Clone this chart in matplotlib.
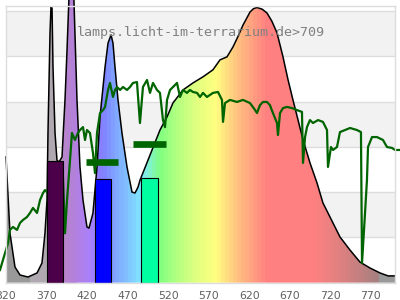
import numpy as np
import matplotlib
matplotlib.use('Agg')
from matplotlib import pyplot as plt
from matplotlib.patches import Polygon
from matplotlib.colors import to_rgb

# lamp spectrum (relative)
lamp_nm = [320, 324.9, 331.1, 337.3, 347.1, 358.3, 364.4, 368.1, 370.6, 371.8, 374.3, 375.5,
           376.8, 378.0, 380.5, 382.9, 385.4, 389.1, 392.8, 395.3, 397.5, 400.5, 403.9,
           407.6, 411.3, 415.0, 419.9, 422.4, 427.3, 432.3, 436.0, 442.2, 445.9, 449.6,
           452.0, 454.5, 458.2, 463.1, 469.3, 475.5, 479.2, 482.9, 485.4, 500.2, 510.0,
           518.7, 526.1, 538.4, 550.7, 563.1, 575.4, 584.1, 592.7, 600.1, 606.0, 612.4, 621.1,
           625.4, 629.7, 635.9, 642.0, 648.0, 654.4, 661.8, 668.0, 674.1, 680.3, 686.5, 695.1,
           703.8, 711.1, 719.8, 732.1, 744.5, 756.8, 769.1, 781.5, 791.4, 800]
lamp_val = [0.555, 0.219, 0.069, 0.034, 0.025, 0.043, 0.087, 0.219, 0.365, 0.661, 1.103, 1.217,
            1.213, 0.952, 0.661, 0.541, 0.533, 0.555, 0.807, 1.027, 1.24, 1.55, 1.24,
            0.807, 0.511, 0.365, 0.246, 0.241, 0.307, 0.511, 0.732, 0.952, 1.058, 1.094,
            1.058, 0.952, 0.807, 0.661, 0.511, 0.400, 0.396, 0.422, 0.453, 0.586, 0.674,
            0.732, 0.794, 0.851, 0.882, 0.909, 0.940, 0.984, 0.997, 1.041, 1.085, 1.137, 1.195,
            1.210, 1.215, 1.208, 1.191, 1.155, 1.103, 0.997, 0.896, 0.807, 0.719, 0.631, 0.529,
            0.440, 0.352, 0.290, 0.202, 0.144, 0.091, 0.065, 0.043, 0.030, 0.030]

# sunlight reference (green line)
sun_nm = [312.6, 318.8, 322.5, 324.9, 328.6, 333.6, 337.3, 341.0, 345.9, 349.6, 353.3, 358.3,
          362.0, 365.7, 368.1, 374.3, 380.5, 386.6, 390.3, 392.8, 395.3, 399.0, 401.4, 405.1,
          408.8, 411.3, 415.0, 417.5, 419.9, 423.6, 427.3, 429.8, 432.3, 436.0, 439.7, 442.2,
          445.9, 448.3, 452.0, 454.5, 457.0, 460.7, 464.4, 469.3, 473.0, 476.7, 481.6, 485.3,
          489.0, 494.0, 497.7, 501.4, 506.3, 510.0, 513.7, 516.2, 518.7, 522.4, 526.1, 531.0,
          534.7, 538.4, 543.3, 547.0, 550.7, 555.7, 559.4, 563.1, 568.0, 571.7, 575.4, 581.6,
          586.5, 587.8, 590.2, 596.4, 605.0, 612.4, 621.1, 627.2, 629.7, 633.4, 637.1, 642.0,
          645.7, 649.4, 654.4, 655.6, 658.1, 661.8, 666.7, 672.9, 679.1, 685.2, 686.5, 689.0,
          691.4, 695.1, 698.8, 705.0, 711.1, 716.1, 717.3, 721.0, 723.5, 728.4, 732.1, 738.3,
          744.5, 753.1, 758.0, 759.3, 763.0, 765.4, 766.7, 771.6, 777.8, 785.2, 790.1, 796.3,
          800.0, 806.2]
sun_val = [0.056, 0.131, 0.175, 0.233, 0.246, 0.233, 0.264, 0.277, 0.290, 0.308, 0.330, 0.308,
           0.365, 0.396, 0.409, 0.387, 0.409, 0.431, 0.466, 0.218, 0.365, 0.542, 0.661, 0.630,
           0.661, 0.674, 0.687, 0.630, 0.674, 0.661, 0.573, 0.484, 0.661, 0.749, 0.762, 0.776,
           0.851, 0.882, 0.820, 0.851, 0.864, 0.851, 0.864, 0.851, 0.864, 0.882, 0.886, 0.705,
           0.864, 0.895, 0.838, 0.882, 0.851, 0.838, 0.718, 0.687, 0.807, 0.851, 0.864, 0.882,
           0.820, 0.851, 0.838, 0.851, 0.842, 0.838, 0.820, 0.838, 0.820, 0.829, 0.838, 0.842,
           0.807, 0.710, 0.793, 0.807, 0.798, 0.807, 0.793, 0.763, 0.749, 0.784, 0.798, 0.798,
           0.784, 0.749, 0.705, 0.652, 0.749, 0.771, 0.776, 0.771, 0.762, 0.754, 0.529, 0.643,
           0.687, 0.718, 0.705, 0.718, 0.710, 0.674, 0.511, 0.599, 0.586, 0.599, 0.665, 0.674,
           0.683, 0.674, 0.665, 0.087, 0.307, 0.453, 0.599, 0.643, 0.643, 0.630, 0.599, 0.595,
           0.586, 0.586]

# receptor bars and marks
bar_nm = [380, 440, 497]
bar_val = [0.537, 0.456, 0.461]
bar_colors = ['#4b0049', '#0000ff', '#00ffa0']
dash_nm = [438.5, 497]
dash_val = [0.532, 0.611]

# spectral colours under the curve
spec_nm = [320, 349.9, 350, 386, 390, 405, 425, 440, 455, 470, 488, 510, 530, 555, 578,
           592, 606, 620, 642, 700, 740, 770, 779.5, 780, 800]
spec_hex = ['#999999', '#999999', '#b0a8b0', '#b0a8b0', '#b886c8', '#b480dc', '#a880ff',
            '#8080ff', '#80a4ff', '#80c4ff', '#80eaff', '#80ff80', '#b0ff80', '#e0ff80',
            '#ffff80', '#ffe080', '#ffc080', '#ffa880', '#ff8080', '#ff8080', '#d88080',
            '#b08080', '#a88080', '#999999', '#999999']

ticks = list(range(320, 800, 50))
source = 'lamps.licht-im-terrarium.de>709'

fig = plt.figure(figsize=(4, 3), dpi=100)
ax = fig.add_axes([0.015, 0.0577, 0.9725, 0.9233])
ax.set_xlim(320, 800)
ax.set_ylim(0, 1.223)

# alternating bands + grid
for lo in [0.2, 0.6, 1.0]:
    ax.axhspan(lo, lo + 0.2, color='#f2f2f2', lw=0, zorder=0)
for g in [0.2, 0.4, 0.6, 0.8, 1.0, 1.2]:
    ax.axhline(g, color='#dddddd', lw=1.0, zorder=0.5)

# gradient fill clipped to lamp spectrum
cols = np.arange(322.5, 800, 5)
rgb = np.array([to_rgb(h) for h in spec_hex])
img = np.stack([np.interp(cols, spec_nm, rgb[:, k]) for k in range(3)], axis=-1)
im = ax.imshow(img[np.newaxis, :, :], extent=[320, 800, 0, 1.3], aspect='auto',
               interpolation='nearest', zorder=2, origin='lower')
verts = list(zip(lamp_nm, lamp_val)) + [(800, 0), (320, 0)]
poly = Polygon(verts, closed=True, transform=ax.transData, fc='none', ec='none')
im.set_clip_path(poly)
# the violet peak pokes out of the frame
pk = [(n, v) for n, v in zip(lamp_nm, lamp_val) if 392 < n < 409]
ax.fill_between([p[0] for p in pk], 0, [p[1] for p in pk], color='#b480d8', lw=0,
                zorder=1.5, clip_on=False)
ax.set_ylim(0, 1.223)

ax.plot(lamp_nm, lamp_val, color='black', lw=1.1, zorder=3, clip_on=False)
ax.plot(sun_nm, sun_val, color='#006400', lw=1.6, zorder=4, clip_on=False)

ax.bar(bar_nm, bar_val, width=20, color=bar_colors, edgecolor='black', lw=0.8, zorder=5)
for c, v in zip(dash_nm, dash_val):
    ax.plot([c - 20, c + 20], [v, v], color='#006400', lw=4.8, solid_capstyle='butt', zorder=6)

ax.text(560, 1.0905, source, ha='center', va='baseline', family='DejaVu Sans Mono',
        fontsize=9.6, color='#808080', zorder=7)

ax.set_xticks(ticks)
ax.set_yticks([])
ax.tick_params(axis='x', length=0, pad=6, labelsize=7.8, labelcolor='#606060')
for s in ax.spines.values():
    s.set_color('#dddddd')
    s.set_linewidth(1.0)
    s.set_zorder(8)

plt.savefig('out.png', dpi=100)
